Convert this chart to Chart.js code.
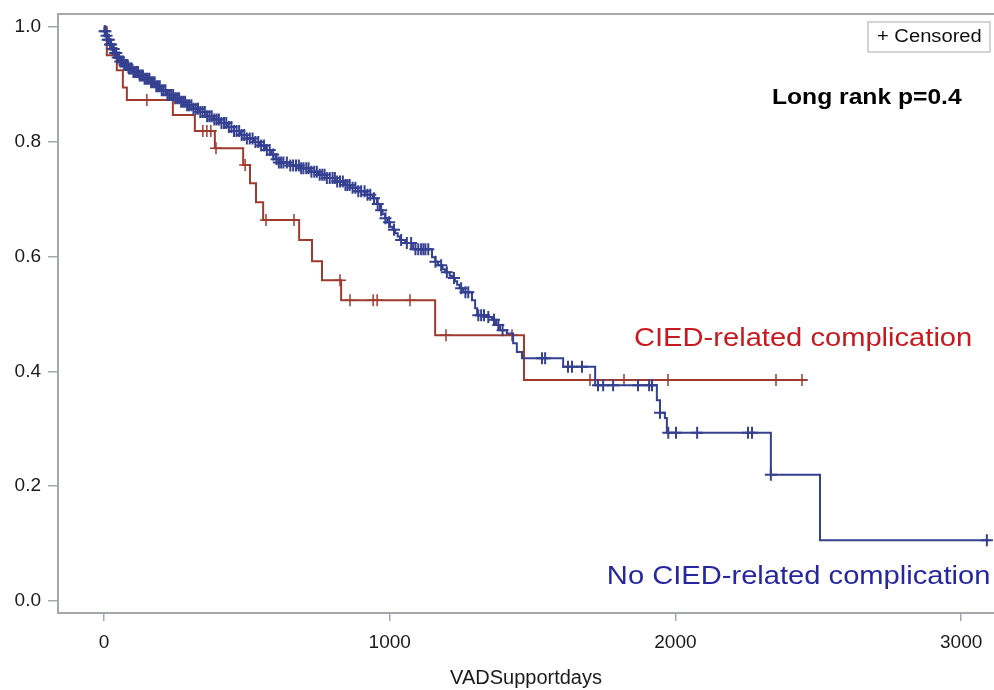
<!DOCTYPE html>
<html>
<head>
<meta charset="utf-8">
<script src="https://cdn.jsdelivr.net/npm/chart.js@4.4.1/dist/chart.umd.min.js"></script>
<style>
  html, body { margin: 0; padding: 0; background: #fff; }
  #wrap { width: 994px; height: 690px; }
</style>
</head>
<body>
<div id="wrap"><canvas id="km"></canvas></div>
<script>
// Kaplan-Meier steps: time (days) and survival after the step
const ciedTimes = [0, 10, 45, 66, 80, 241, 318, 388, 487, 511, 532, 557, 683, 728, 763, 830, 1159, 1470, 2460];
const ciedSurv  = [1.0, 0.951, 0.925, 0.895, 0.873, 0.847, 0.819, 0.789, 0.760, 0.728, 0.695, 0.664, 0.629, 0.592, 0.559, 0.524, 0.463, 0.385, 0.385];
const ciedCensored = [150, 346, 360, 374, 392, 494, 567, 665, 826, 861, 942, 956, 1071, 1197, 1428, 1701, 1820, 1974, 2352, 2443];

const noCiedTimes = [0, 2, 6, 12, 20, 28, 36, 45, 55, 68, 85, 100, 120, 140, 160, 180, 200, 220, 245, 265,
  285, 310, 336, 360, 385, 406, 430, 455, 476, 500, 525, 546, 565, 585, 600, 612, 650, 686, 720, 750,
  780, 810, 840, 861, 890, 915, 941, 955, 966, 975, 984, 992, 1001, 1010, 1019, 1028, 1036, 1054, 1082, 1148,
  1160, 1169, 1185, 1194, 1210, 1218, 1228, 1236, 1245, 1257, 1288, 1299, 1306, 1341, 1358, 1372, 1386, 1410, 1432, 1445,
  1463, 1607, 1719, 1935, 1946, 1963, 1970, 2334, 2506, 3100];
const noCiedSurv = [1.0, 0.993, 0.985, 0.978, 0.970, 0.962, 0.955, 0.947, 0.940, 0.934, 0.928, 0.922, 0.916, 0.910, 0.904, 0.897, 0.890, 0.882, 0.876, 0.870,
  0.864, 0.858, 0.852, 0.845, 0.839, 0.833, 0.826, 0.819, 0.812, 0.806, 0.800, 0.794, 0.786, 0.778, 0.770, 0.764, 0.759, 0.754, 0.748, 0.743,
  0.737, 0.731, 0.725, 0.720, 0.714, 0.708, 0.702, 0.692, 0.681, 0.674, 0.667, 0.660, 0.652, 0.647, 0.641, 0.635, 0.629, 0.624, 0.613, 0.599,
  0.591, 0.585, 0.578, 0.573, 0.567, 0.563, 0.557, 0.551, 0.545, 0.538, 0.524, 0.510, 0.498, 0.495, 0.490, 0.481, 0.472, 0.466, 0.449, 0.434,
  0.423, 0.408, 0.376, 0.350, 0.328, 0.319, 0.293, 0.220, 0.106, 0.106];
const noCiedCensored = [2, 5, 9, 13, 17, 21, 25, 30, 34, 39, 43, 48, 53, 57, 62, 67, 72, 77, 82, 87,
  92, 97, 103, 108, 114, 119, 125, 131, 136, 142, 148, 153, 159, 165, 171, 177, 183, 189, 195, 202,
  208, 215, 222, 228, 235, 242, 249, 256, 263, 270, 277, 284, 291, 298, 306, 313, 321, 329, 337, 345,
  353, 361, 369, 377, 386, 394, 402, 411, 420, 428, 437, 446, 455, 464, 473, 482, 491, 500, 510, 520,
  530, 540, 550, 560, 570, 580, 592, 604, 612, 620, 628, 640, 652, 662, 672, 682, 690, 698, 708, 716,
  726, 736, 745, 755, 764, 772, 780, 790, 800, 808, 816, 826, 836, 845, 852, 860, 870, 880, 890, 900,
  912, 922, 932, 945, 958, 970, 985, 998, 1015, 1040, 1060, 1075, 1090, 1100, 1110, 1118, 1125, 1135, 1160, 1180,
  1200, 1225, 1250, 1265, 1275, 1310, 1320, 1330, 1345, 1365, 1380, 1395, 1533, 1544, 1624, 1638, 1673, 1729, 1747, 1782,
  1869, 1908, 1918, 1946, 1975, 2002, 2076, 2254, 2268, 2334, 3090];

const xTicks = [0, 1000, 2000, 3000];
const yTicks = [0, 0.2, 0.4, 0.6, 0.8, 1.0];

const FONT = '"Liberation Sans", Arial, sans-serif';
const AXIS_GRAY = '#a4a8ae';
const RED_LINE = '#a03a2e';
const BLUE_LINE = '#354190';

function survAt(times, surv, t) {
  let s = surv[0];
  for (let i = 0; i < times.length; i++) {
    if (times[i] <= t) s = surv[i];
  }
  return s;
}

function curve(times, surv) {
  return times.map((t, i) => ({ x: t, y: surv[i] }));
}

function marks(censored, times, surv) {
  return censored.map(t => ({ x: t, y: survAt(times, surv, t) }));
}

// draw text a little wider, like the source picture
function wideText(ctx, text, x, y, font, color, align) {
  ctx.save();
  ctx.translate(x, y);
  ctx.scale(1.12, 1);
  ctx.font = font;
  ctx.fillStyle = color;
  ctx.textAlign = align || 'left';
  ctx.textBaseline = 'middle';
  ctx.fillText(text, 0, 0);
  ctx.restore();
}

const extras = {
  id: 'extras',
  afterDraw(chart) {
    const { ctx, chartArea: a, scales: { x, y } } = chart;
    ctx.save();
    // top frame line
    ctx.strokeStyle = AXIS_GRAY;
    ctx.lineWidth = 2;
    ctx.beginPath();
    ctx.moveTo(a.left, a.top);
    ctx.lineTo(a.right, a.top);
    ctx.stroke();

    // censored legend box
    const boxW = 122, boxH = 30;
    const bx = a.right - boxW - 4, by = a.top + 8;
    ctx.fillStyle = '#fff';
    ctx.fillRect(bx, by, boxW, boxH);
    ctx.strokeStyle = '#c4c6ca';
    ctx.lineWidth = 1.5;
    ctx.strokeRect(bx, by, boxW, boxH);
    wideText(ctx, '+ Censored', bx + 9, by + boxH / 2, '18px ' + FONT, '#111');

    wideText(ctx, 'Long rank p=0.4', x.getPixelForValue(2338), y.getPixelForValue(0.876), 'bold 22px ' + FONT, '#000');
    wideText(ctx, 'CIED-related complication', x.getPixelForValue(1855), y.getPixelForValue(0.456), '26px ' + FONT, '#c8191f');
    wideText(ctx, 'No CIED-related complication', x.getPixelForValue(1760), y.getPixelForValue(0.042), '26px ' + FONT, '#2626a0');
    ctx.restore();
  }
};

const ctx = document.getElementById('km').getContext('2d');
new Chart(ctx, {
  type: 'scatter',
  data: {
    datasets: [
      {
        label: 'No CIED-related complication',
        data: curve(noCiedTimes, noCiedSurv),
        showLine: true,
        stepped: true,
        borderColor: BLUE_LINE,
        borderWidth: 2,
        pointRadius: 0,
        fill: false
      },
      {
        label: 'No CIED censored',
        data: marks(noCiedCensored, noCiedTimes, noCiedSurv),
        showLine: false,
        pointStyle: 'cross',
        pointRadius: 6,
        pointBorderWidth: 2,
        borderColor: BLUE_LINE,
        backgroundColor: BLUE_LINE
      },
      {
        label: 'CIED-related complication',
        data: curve(ciedTimes, ciedSurv),
        showLine: true,
        stepped: true,
        borderColor: RED_LINE,
        borderWidth: 2,
        pointRadius: 0,
        fill: false
      },
      {
        label: 'CIED censored',
        data: marks(ciedCensored, ciedTimes, ciedSurv),
        showLine: false,
        pointStyle: 'cross',
        pointRadius: 6,
        pointBorderWidth: 1.5,
        borderColor: RED_LINE,
        backgroundColor: RED_LINE
      }
    ]
  },
  options: {
    responsive: true,
    maintainAspectRatio: false,
    animation: false,
    layout: { autoPadding: false, padding: { top: 14, right: 0, bottom: 0, left: 0 } },
    plugins: {
      legend: { display: false },
      tooltip: { enabled: false }
    },
    scales: {
      x: {
        type: 'linear',
        min: -161,
        max: 3115,
        afterBuildTicks: s => { s.ticks = xTicks.map(v => ({ value: v })); },
        afterFit: s => { s.height = 77; s.paddingLeft = 0; s.paddingRight = 0; },
        grid: { drawOnChartArea: false, tickLength: 8, color: AXIS_GRAY, lineWidth: 1.5 },
        border: { display: true, color: AXIS_GRAY, width: 2 },
        ticks: {
          font: { family: FONT, size: 19 },
          color: '#1a1a1a',
          padding: 10,
          maxRotation: 0,
          callback: v => String(v)
        },
        title: {
          display: true,
          text: 'VADSupportdays',
          font: { family: FONT, size: 20 },
          color: '#1a1a1a',
          padding: { top: 0, bottom: 0 }
        }
      },
      y: {
        type: 'linear',
        min: -0.021,
        max: 1.023,
        afterBuildTicks: s => { s.ticks = yTicks.map(v => ({ value: v })); },
        afterFit: s => { s.width = 58; s.paddingTop = 0; s.paddingBottom = 0; },
        grid: { drawOnChartArea: false, tickLength: 10, color: AXIS_GRAY, lineWidth: 1.5 },
        border: { display: true, color: AXIS_GRAY, width: 2 },
        ticks: {
          font: { family: FONT, size: 19 },
          color: '#1a1a1a',
          padding: 7,
          callback: v => v.toFixed(1)
        }
      }
    }
  },
  plugins: [extras]
});
</script>
</body>
</html>
